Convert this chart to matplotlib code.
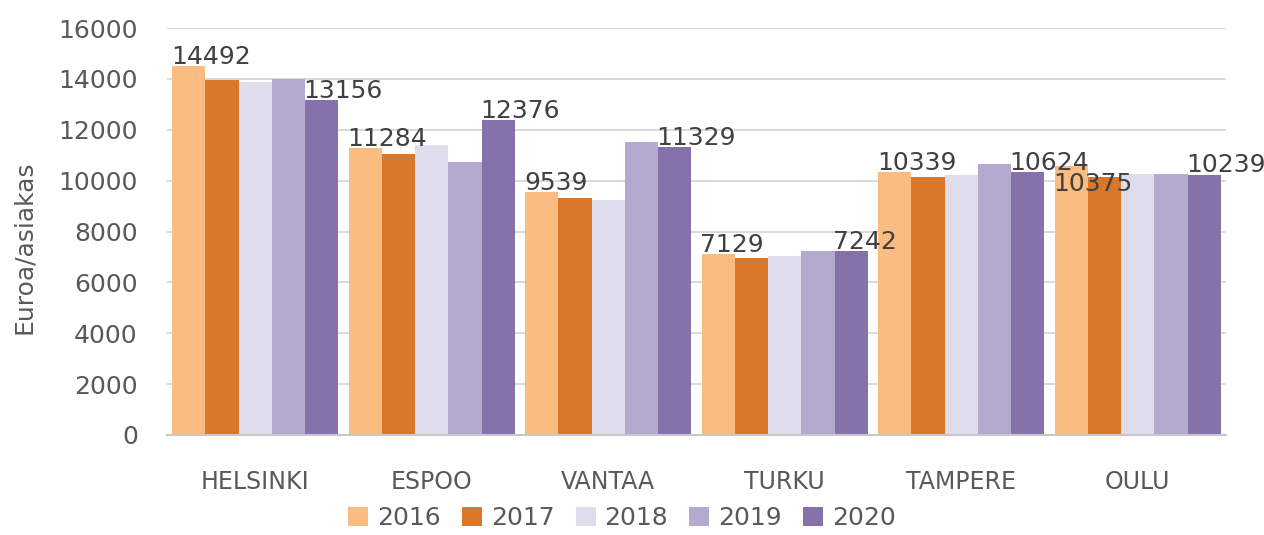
import matplotlib
matplotlib.use("Agg")
import matplotlib.pyplot as plt
import numpy as np

cities = ["HELSINKI", "ESPOO", "VANTAA", "TURKU", "TAMPERE", "OULU"]
years = ["2016", "2017", "2018", "2019", "2020"]

# bar heights (euro per client)
v2016 = [14492, 11284, 9539, 7129, 10339, 10590]
v2017 = [13955, 11035, 9317, 6970, 10130, 10130]
v2018 = [13890, 11412, 9250, 7050, 10209, 10260]
v2019 = [13995, 10720, 11530, 7233, 10640, 10260]
v2020 = [13156, 12376, 11329, 7242, 10330, 10239]

# data labels as printed on the chart (first and last year only)
labels_2016 = ["14492", "11284", "9539", "7129", "10339", "10375"]
labels_2020 = ["13156", "12376", "11329", "7242", "10624", "10239"]

yticks = [0, 2000, 4000, 6000, 8000, 10000, 12000, 14000, 16000]

series = [v2016, v2017, v2018, v2019, v2020]
colors = ["#FABC80", "#D97828", "#DFDCEC", "#B4A9CE", "#8672AB"]
text_color = "#595959"
label_color = "#404040"

fig = plt.figure(figsize=(12.64, 5.35), dpi=100)
ax = fig.add_axes([167 / 1264, 100 / 535, (1226 - 167) / 1264, 407 / 535])

x = np.arange(len(cities))
group = 0.94
w = group / len(years)

all_bars = []
for i, (year, vals, c) in enumerate(zip(years, series, colors)):
    bars = ax.bar(x - group / 2 + i * w, vals, width=w, align="edge",
                  color=c, label=year, zorder=2, linewidth=0)
    all_bars.append(bars)

# labels sit left-aligned on the bar's left edge, baseline on the bar top
for bars, texts in ((all_bars[0], labels_2016), (all_bars[-1], labels_2020)):
    for j, (b, t) in enumerate(zip(bars, texts)):
        below = bars is all_bars[0] and j == len(cities) - 1
        ax.annotate(t, (b.get_x(), b.get_height()),
                    xytext=(-1, -18 if below else 1.5), textcoords="offset points",
                    ha="left", va="baseline",
                    fontsize=18, color=label_color, zorder=3)

ax.set_xlim(-0.5, len(cities) - 0.5)
ax.set_ylim(0, 16000)
ax.set_yticks(yticks)
ax.set_xticks(x)
ax.set_xticklabels(cities)
ax.yaxis.grid(True, color="#D9D9D9", lw=1.4, zorder=0)
ax.set_axisbelow(True)
for s in ("top", "right", "left"):
    ax.spines[s].set_visible(False)
ax.spines["bottom"].set_color("#C8C8C8")
ax.spines["bottom"].set_linewidth(1.5)
ax.tick_params(axis="y", length=0, pad=21, labelsize=18, labelcolor=text_color)
ax.tick_params(axis="x", length=0, pad=25, labelsize=17, labelcolor=text_color)

fig.text(24 / 1264, 0.538, "Euroa/asiakas", rotation=90, ha="center", va="center",
         fontsize=18, color=text_color)

fig.legend(ncol=5, loc="center", bbox_to_anchor=(0.492, 0.032), frameon=False,
           fontsize=18, labelcolor=text_color, handlelength=0.8, handleheight=0.8,
           handletextpad=0.35, columnspacing=0.85, borderaxespad=0, borderpad=0)

fig.savefig("out.png", dpi=100)
plt.close(fig)
